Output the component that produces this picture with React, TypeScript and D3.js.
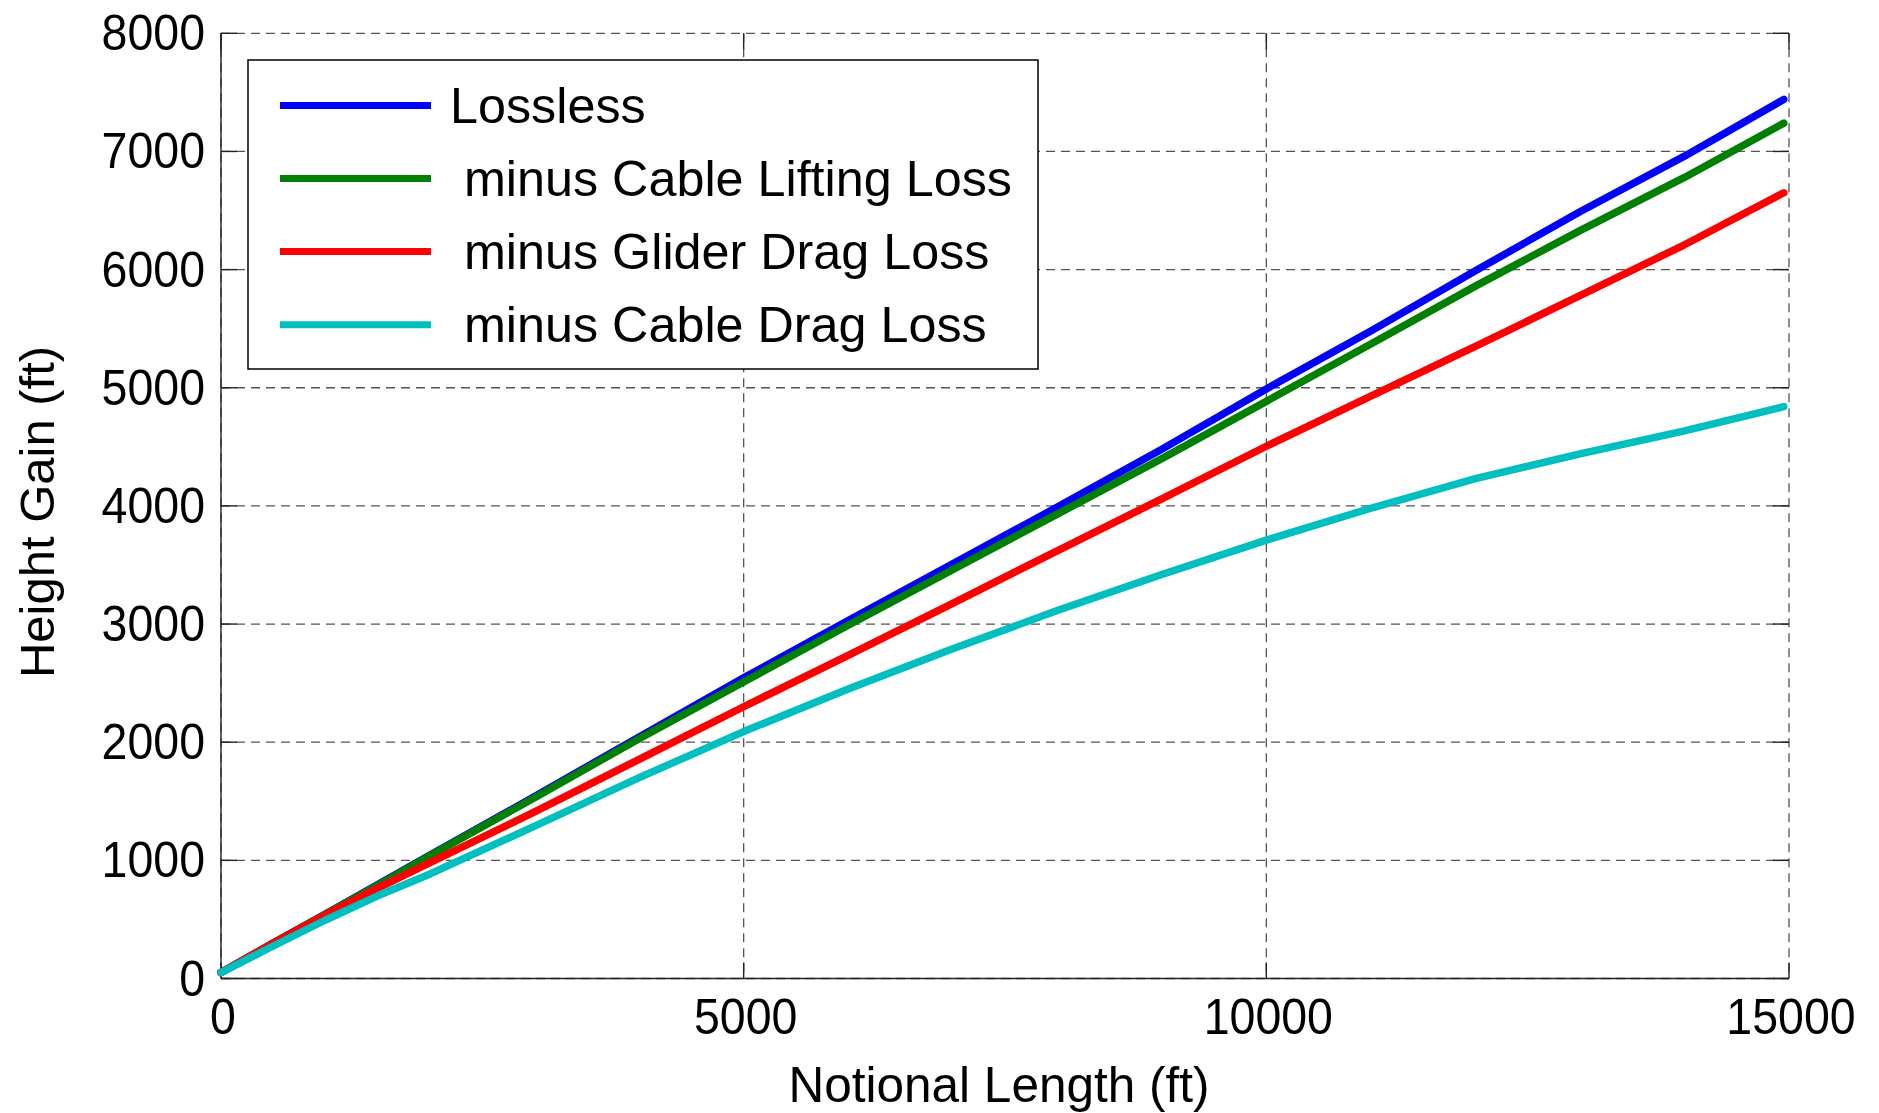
import React, { useEffect } from "react";
import * as d3 from "d3";

const lengths = [0, 500, 1000, 1500, 2000, 3000, 4000, 5000, 6000, 7000, 8000, 9000, 10000, 11000, 12000, 13000, 14000, 14950];
const lossless = [50, 300, 545, 795, 1045, 1540, 2045, 2545, 3030, 3510, 3990, 4480, 4990, 5480, 5990, 6490, 6960, 7440];
const minusLifting = [50, 300, 545, 790, 1040, 1530, 2030, 2510, 2990, 3460, 3930, 4400, 4885, 5370, 5860, 6330, 6780, 7240];
const minusGlider = [50, 300, 540, 765, 980, 1410, 1855, 2300, 2735, 3175, 3620, 4060, 4505, 4930, 5350, 5780, 6210, 6650];
const minusCable = [50, 275, 495, 700, 885, 1290, 1700, 2090, 2450, 2790, 3115, 3420, 3710, 3980, 4230, 4440, 4635, 4840];

const seriesNames = ["Lossless", " minus Cable Lifting Loss", " minus Glider Drag Loss", " minus Cable Drag Loss"];
const seriesColors = ["#0000ff", "#008000", "#ff0000", "#00bfbf"];
const seriesValues = [lossless, minusLifting, minusGlider, minusCable];

const xTicks = [0, 5000, 10000, 15000];
const yTicks = [0, 1000, 2000, 3000, 4000, 5000, 6000, 7000, 8000];

const W = 1879;
const H = 1113;
const L = 221, R = 1789, T = 33.3, B = 978.5;

export default function App() {
  useEffect(() => {
    document.body.style.margin = "0";
    document.body.style.overflow = "hidden";
  }, []);

  const x = d3.scaleLinear().domain([0, 15000]).range([L, R]);
  const y = d3.scaleLinear().domain([0, 8000]).range([B, T]);
  const line = d3.line<number>().x((_, i) => x(lengths[i])).y((d) => y(d));

  const font = "'Liberation Sans', Arial, Helvetica, sans-serif";
  const gridColor = "#555";
  const dash = "9,6";

  const legX0 = 248, legY0 = 60, legX1 = 1038, legY1 = 369;
  const legRowY = [105.5, 178.5, 251.6, 324.7];

  return (
    <svg width={W} height={H} style={{ position: "absolute", left: 0, top: 0, display: "block", background: "#fff" }}>
      <rect x={0} y={0} width={W} height={H} fill="#fff" />
      {xTicks.map((t) => (
        <line key={"gx" + t} x1={x(t)} x2={x(t)} y1={T} y2={B} stroke={gridColor} strokeWidth={1.3} strokeDasharray={dash} />
      ))}
      {yTicks.map((t) => (
        <line key={"gy" + t} x1={L} x2={R} y1={y(t)} y2={y(t)} stroke={gridColor} strokeWidth={1.3} strokeDasharray={dash} />
      ))}
      <line x1={L} x2={L} y1={T} y2={B} stroke="#222" strokeWidth={1.4} />
      <line x1={L} x2={R} y1={B} y2={B} stroke="#222" strokeWidth={1.4} />
      {xTicks.map((t) => (
        <g key={"tx" + t}>
          <line x1={x(t)} x2={x(t)} y1={B} y2={B - 16} stroke="#222" strokeWidth={1.4} />
          <line x1={x(t)} x2={x(t)} y1={T} y2={T + 16} stroke="#222" strokeWidth={1.4} />
        </g>
      ))}
      {yTicks.map((t) => (
        <g key={"ty" + t}>
          <line x1={L} x2={L + 16} y1={y(t)} y2={y(t)} stroke="#222" strokeWidth={1.4} />
          <line x1={R} x2={R - 16} y1={y(t)} y2={y(t)} stroke="#222" strokeWidth={1.4} />
        </g>
      ))}
      {seriesValues.map((vals, i) => (
        <path key={"s" + i} d={line(vals) || ""} fill="none" stroke={seriesColors[i]} strokeWidth={7.5} strokeLinejoin="round" strokeLinecap="round" />
      ))}
      {xTicks.map((t) => (
        <text key={"lx" + t} transform={`translate(${x(t) + 2},${B + 55}) scale(1,1.08)`} textAnchor="middle" fontFamily={font} fontSize={46.5} fill="#000">
          {t}
        </text>
      ))}
      {yTicks.map((t) => (
        <text key={"ly" + t} transform={`translate(205,${y(t) + 17}) scale(1,1.08)`} textAnchor="end" fontFamily={font} fontSize={46.5} fill="#000">
          {t}
        </text>
      ))}
      <text x={999} y={1102} textAnchor="middle" fontFamily={font} fontSize={49.5} fill="#000">
        Notional Length (ft)
      </text>
      <text transform="translate(54,512) rotate(-90)" textAnchor="middle" fontFamily={font} fontSize={49} fill="#000">
        Height Gain (ft)
      </text>
      <rect x={legX0} y={legY0} width={legX1 - legX0} height={legY1 - legY0} fill="#fff" stroke="#000" strokeWidth={1.5} />
      {seriesNames.map((name, i) => (
        <g key={"leg" + i}>
          <line x1={280} x2={431} y1={legRowY[i]} y2={legRowY[i]} stroke={seriesColors[i]} strokeWidth={7} />
          <text x={450} y={legRowY[i] + 17} fontFamily={font} fontSize={50.3} fill="#000" style={{ whiteSpace: "pre" }}>
            {name}
          </text>
        </g>
      ))}
    </svg>
  );
}
